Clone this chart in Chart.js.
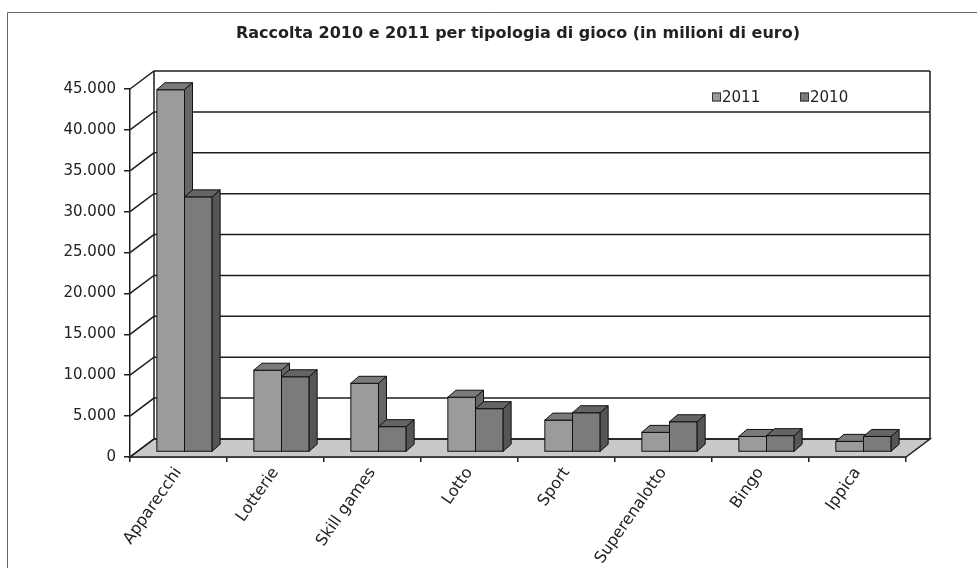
<!DOCTYPE html>
<html>
<head>
<meta charset="utf-8">
<script src="https://cdn.jsdelivr.net/npm/chart.js@4.4.0/dist/chart.umd.min.js"></script>
<style>
  html, body { margin: 0; padding: 0; background: #fff; }
  #wrap { width: 977px; height: 568px; }
</style>
</head>
<body>
<div id="wrap"><canvas id="chart"></canvas></div>
<script>
// Dati (milioni di euro)
const categorie = ['Apparecchi', 'Lotterie', 'Skill games', 'Lotto', 'Sport', 'Superenalotto', 'Bingo', 'Ippica'];
const raccolta2011 = [44300, 10000, 8400, 6700, 3900, 2400, 1900, 1300];
const raccolta2010 = [31200, 9200, 3100, 5300, 4800, 3700, 2000, 1900];
const etichetteSerie = ['2011', '2010'];

// Effetto 3D
const PARETE = { x: 24, y: -18 };     // profondità pareti/pavimento
const SPOSTA_BARRE = { x: 6, y: -5 };  // barre a metà profondità
const PROF_BARRA = { x: 8, y: -7 };

const colori = [
    { front: '#9b9b9b', top: '#7a7a7a', side: '#666666' },
    { front: '#7b7b7b', top: '#646464', side: '#555555' }
];

function formatta(v) {
    return String(v).replace(/\B(?=(\d{3})+(?!\d))/g, '.');
}

const grafico3d = {
    id: 'grafico3d',
    beforeDraw(chart) {
        const ctx = chart.ctx;
        ctx.save();
        ctx.fillStyle = '#fff';
        ctx.fillRect(0, 0, chart.width, chart.height);
        ctx.strokeStyle = '#666';
        ctx.lineWidth = 1;
        ctx.beginPath();
        ctx.moveTo(7.5, chart.height);
        ctx.lineTo(7.5, 12.5);
        ctx.lineTo(chart.width, 12.5);
        ctx.stroke();
        ctx.restore();
    },
    beforeDatasetsDraw(chart) {
        const { ctx, chartArea: a, scales: { y } } = chart;
        ctx.save();
        // pavimento
        ctx.fillStyle = '#c9c9c9';
        ctx.beginPath();
        ctx.moveTo(a.left, a.bottom);
        ctx.lineTo(a.left + PARETE.x, a.bottom + PARETE.y);
        ctx.lineTo(a.right + PARETE.x, a.bottom + PARETE.y);
        ctx.lineTo(a.right, a.bottom);
        ctx.closePath();
        ctx.fill();
        ctx.strokeStyle = '#1e1e1e';
        ctx.lineWidth = 1.5;
        ctx.stroke();

        // griglia su parete sinistra e di fondo
        y.ticks.forEach(t => {
            const py = y.getPixelForValue(t.value);
            ctx.beginPath();
            ctx.moveTo(a.left, py);
            ctx.lineTo(a.left + PARETE.x, py + PARETE.y);
            ctx.lineTo(a.right + PARETE.x, py + PARETE.y);
            ctx.stroke();
        });
        ctx.beginPath();
        ctx.moveTo(a.left + PARETE.x, a.bottom + PARETE.y);
        ctx.lineTo(a.left + PARETE.x, a.top + PARETE.y);
        ctx.moveTo(a.right + PARETE.x, a.bottom + PARETE.y);
        ctx.lineTo(a.right + PARETE.x, a.top + PARETE.y);
        ctx.stroke();
        ctx.restore();

        // le barre vengono disegnate spostate verso il fondo
        ctx.save();
        ctx.translate(SPOSTA_BARRE.x, SPOSTA_BARRE.y);
    },
    afterDatasetsDraw(chart) {
        const ctx = chart.ctx;
        ctx.strokeStyle = '#111';
        ctx.lineWidth = 1;
        for (let i = 0; i < categorie.length; i++) {
            chart.data.datasets.forEach((ds, di) => {
                const bar = chart.getDatasetMeta(di).data[i];
                const { x, y, base, width } = bar.getProps(['x', 'y', 'base', 'width'], true);
                const l = x - width / 2;
                const r = x + width / 2;
                const c = colori[di];

                ctx.fillStyle = c.front;
                ctx.fillRect(l, y, width, base - y);
                ctx.strokeRect(l, y, width, base - y);

                ctx.fillStyle = c.top;
                ctx.beginPath();
                ctx.moveTo(l, y);
                ctx.lineTo(l + PROF_BARRA.x, y + PROF_BARRA.y);
                ctx.lineTo(r + PROF_BARRA.x, y + PROF_BARRA.y);
                ctx.lineTo(r, y);
                ctx.closePath();
                ctx.fill();
                ctx.stroke();

                ctx.fillStyle = c.side;
                ctx.beginPath();
                ctx.moveTo(r, y);
                ctx.lineTo(r + PROF_BARRA.x, y + PROF_BARRA.y);
                ctx.lineTo(r + PROF_BARRA.x, base + PROF_BARRA.y);
                ctx.lineTo(r, base);
                ctx.closePath();
                ctx.fill();
                ctx.stroke();
            });
        }
        ctx.restore();
    },
    afterDraw(chart) {
        // legenda dentro l'area del grafico
        const { ctx, chartArea: a } = chart;
        ctx.save();
        ctx.font = '15px "DejaVu Sans"';
        ctx.textBaseline = 'middle';
        let lx = a.right - 194;
        const ly = a.top + 8;
        chart.data.datasets.forEach((ds, di) => {
            ctx.fillStyle = colori[di].front;
            ctx.fillRect(lx, ly - 4.5, 9, 9);
            ctx.strokeStyle = '#333';
            ctx.strokeRect(lx + 0.5, ly - 4, 8, 8);
            ctx.fillStyle = '#222';
            ctx.fillText(ds.label, lx + 10, ly + 1);
            lx += 88;
        });
        ctx.restore();
    }
};

const ctx = document.getElementById('chart').getContext('2d');
new Chart(ctx, {
    type: 'bar',
    data: {
        labels: categorie,
        datasets: [{
            label: etichetteSerie[0],
            data: raccolta2011,
            backgroundColor: colori[0].front,
            borderColor: '#111',
            borderWidth: 1,
            clip: false
        }, {
            label: etichetteSerie[1],
            data: raccolta2010,
            backgroundColor: colori[1].front,
            borderColor: '#111',
            borderWidth: 1,
            clip: false
        }]
    },
    options: {
        responsive: true,
        maintainAspectRatio: false,
        animation: false,
        layout: { padding: { left: 0, right: 71, top: 0, bottom: 0 } },
        datasets: { bar: { barPercentage: 1, categoryPercentage: 0.57 } },
        scales: {
            x: {
                grid: { display: true, drawOnChartArea: false, offset: true, tickLength: 5, color: '#1e1e1e', lineWidth: 1.5 },
                border: { display: true, color: '#1e1e1e', width: 1.5 },
                ticks: {
                    minRotation: 55,
                    maxRotation: 55,
                    padding: 2,
                    color: '#222',
                    font: { family: '"DejaVu Sans"', size: 16 }
                },
                afterFit(scale) { scale.height = 111; }
            },
            y: {
                min: 0,
                max: 45000,
                grid: { display: true, drawOnChartArea: false, tickLength: 6, color: '#1e1e1e', lineWidth: 1.5 },
                border: { display: true, color: '#1e1e1e', width: 1.5 },
                ticks: {
                    stepSize: 5000,
                    padding: 8,
                    color: '#222',
                    font: { family: '"DejaVu Sans"', size: 15 },
                    callback: v => formatta(v)
                },
                afterFit(scale) { scale.width = 130; }
            }
        },
        plugins: {
            legend: { display: false },
            tooltip: { enabled: false },
            title: {
                display: true,
                fullSize: false,
                text: 'Raccolta 2010 e 2011 per tipologia di gioco (in milioni di euro)',
                color: '#222',
                font: { family: '"DejaVu Sans"', size: 16, weight: 'bold' },
                padding: { top: 24.4, bottom: 45.4 }
            }
        }
    },
    plugins: [grafico3d]
});
</script>
</body>
</html>
